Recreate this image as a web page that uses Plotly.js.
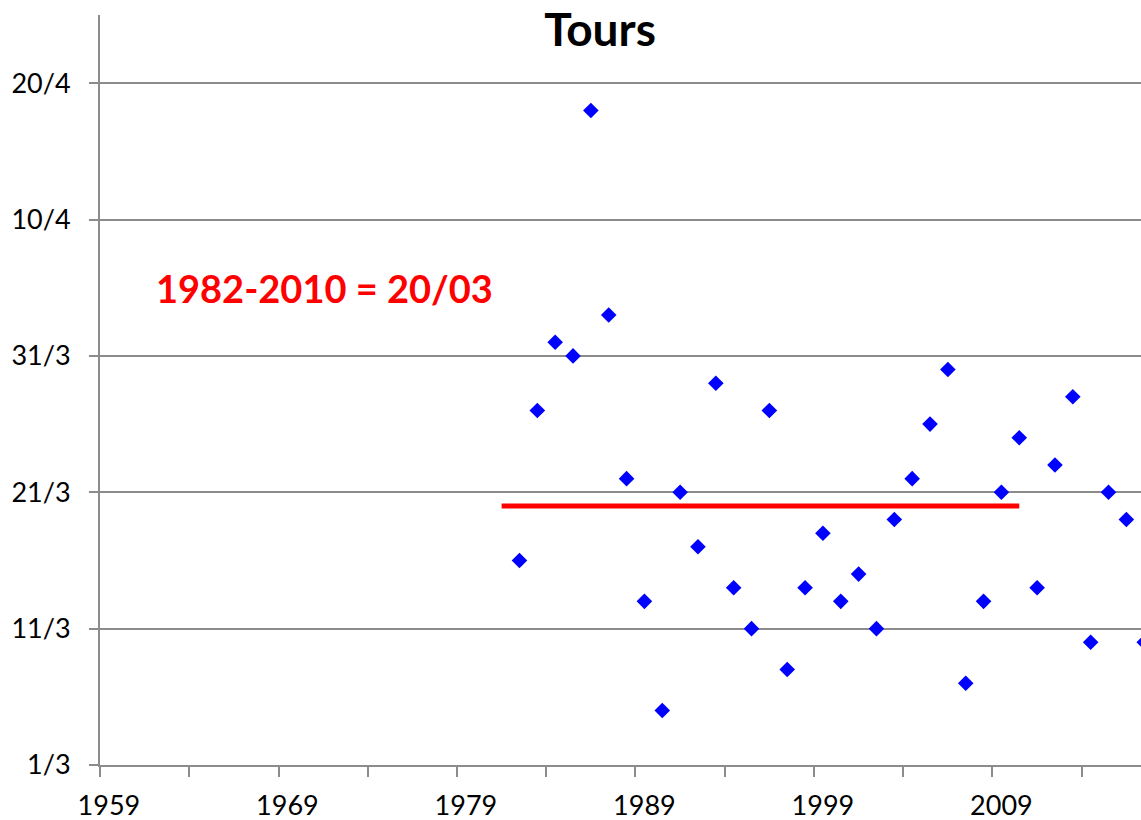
<!DOCTYPE html>
<html>
<head>
<meta charset="utf-8">
<script src="https://cdn.plot.ly/plotly-3.0.1.min.js"></script>
<style>
html,body{margin:0;padding:0;background:#ffffff;}
#chart{width:1141px;height:820px;}
</style>
</head>
<body>
<div id="chart"></div>
<script>
// ---- data ----
const chartTitle = 'Tours';
const years = [1982,1983,1984,1985,1986,1987,1988,1989,1990,1991,1992,1993,1994,1995,1996,1997,1998,1999,
               2000,2001,2002,2003,2004,2005,2006,2007,2008,2009,2010,2011,2012,2013,2014,2015,2016,2017];
const dates = ['16/3','27/3','1/4','31/3','18/4','3/4','22/3','13/3','5/3','21/3','17/3','29/3','14/3','11/3','27/3','8/3','14/3','18/3',
               '13/3','15/3','11/3','19/3','22/3','26/3','30/3','7/3','13/3','21/3','25/3','14/3','23/3','28/3','10/3','21/3','19/3','10/3'];
const meanYears = [1981, 2010];
const meanDate = '20/3';
const meanLabel = '1982-2010 = 20/03';
const xLabelYears = [1959, 1969, 1979, 1989, 1999, 2009];

// ---- helpers ----
function toDate(s){
  const p = s.split('/');
  return '2001-' + p[1].padStart(2,'0') + '-' + p[0].padStart(2,'0');
}
const FONT = 'Lato, "Open Sans", "Liberation Sans", sans-serif';
const GREY = '#8c8c8c';

const traces = [
  {
    type: 'scatter', mode: 'lines',
    x: meanYears,
    y: meanYears.map(() => toDate(meanDate)),
    line: {color: '#ff0000', width: 5},
    hoverinfo: 'skip', showlegend: false
  },
  {
    type: 'scatter', mode: 'markers',
    x: years,
    y: dates.map(toDate),
    marker: {symbol: 'diamond', size: 12, color: '#0000ff'},
    cliponaxis: true, showlegend: false
  }
];

const layout = {
  width: 1141, height: 820,
  margin: {l: 100, r: 0, t: 15, b: 55},
  paper_bgcolor: '#ffffff', plot_bgcolor: '#ffffff',
  font: {family: FONT, color: '#000000'},
  showlegend: false,
  title: {
    text: '<b>' + chartTitle + '</b>',
    font: {family: FONT, size: 46, color: '#000000'},
    xref: 'container', x: 600/1141, xanchor: 'center',
    yref: 'container', y: 1 - 30/820, yanchor: 'middle'
  },
  xaxis: {
    range: [1958.5, 2016.82],
    tickmode: 'array', tickvals: xLabelYears, ticktext: xLabelYears.map(String),
    ticks: '', ticklen: 0,
    ticklabelstandoff: 16,
    tickfont: {family: FONT, size: 27, color: '#000000'},
    showgrid: false, zeroline: false,
    showline: true, linecolor: GREY, linewidth: 2,
    minor: {ticks: 'outside', tick0: 1958.5, dtick: 5, ticklen: 10, tickwidth: 2, tickcolor: GREY, showgrid: false}
  },
  yaxis: {
    type: 'date',
    range: ['2001-03-01', '2001-04-25'],
    tick0: '2001-03-01', dtick: 864000000,
    tickformat: '%-d/%-m',
    ticks: 'outside', ticklen: 9, tickwidth: 2, tickcolor: GREY,
    ticklabelstandoff: 13,
    tickfont: {family: FONT, size: 27, color: '#000000'},
    showgrid: true, gridcolor: GREY, gridwidth: 2,
    zeroline: false,
    showline: true, linecolor: GREY, linewidth: 2
  },
  annotations: [{
    text: '<b>' + meanLabel + '</b>',
    xref: 'paper', yref: 'paper',
    x: (154 - 100) / 1041, y: (765 - 288) / 750,
    xanchor: 'left', yanchor: 'middle',
    showarrow: false,
    font: {family: FONT, size: 38, color: '#ff0000'}
  }]
};

Plotly.newPlot('chart', traces, layout, {displayModeBar: false, staticPlot: true});
</script>
</body>
</html>
